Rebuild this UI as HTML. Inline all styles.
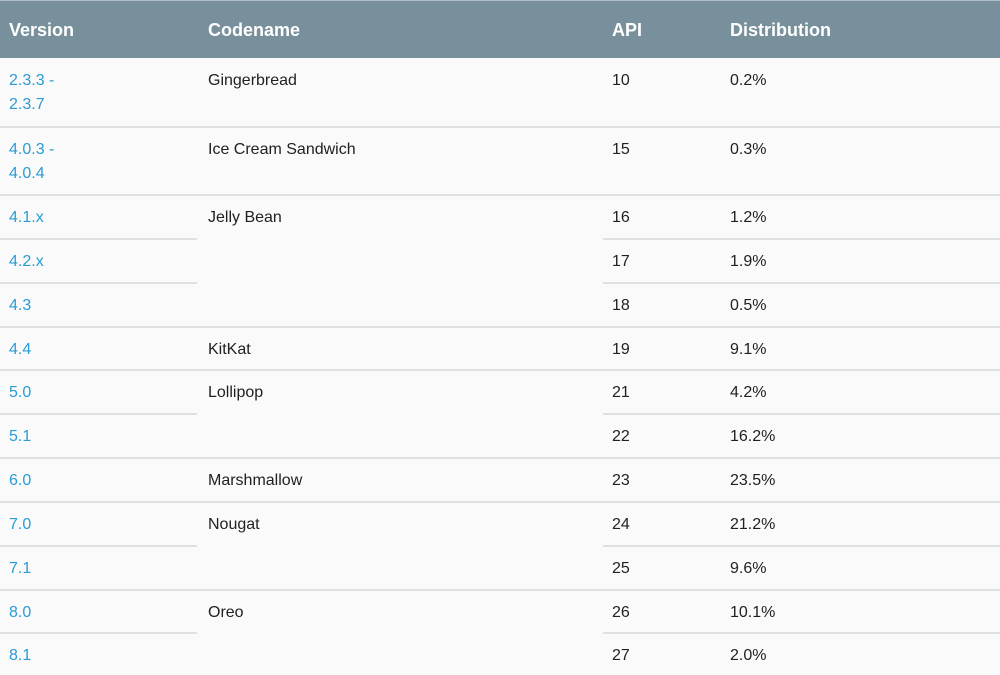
<!DOCTYPE html>
<html><head><meta charset="utf-8"><style>
body{margin:0;width:1000px;height:675px;overflow:hidden;background:#fafafa;font-family:"Liberation Sans",sans-serif;position:relative}
.hdr{position:absolute;left:0;top:0;width:1000px;height:58px;background:#78909c;border-top:1px solid #b0bec5;box-sizing:border-box}
.h{position:absolute;top:17px;color:#fff;font-weight:bold;font-size:18px;line-height:24px}
.t{position:absolute;font-size:16px;line-height:24px;color:#202124}
.v{color:#2a9bd6}
.ln{position:absolute;height:2px;background:#dde1e4}
</style></head><body>
<div class="hdr">
<div class="h" style="left:9px">Version</div>
<div class="h" style="left:208px">Codename</div>
<div class="h" style="left:612px">API</div>
<div class="h" style="left:730px">Distribution</div>
</div>
<div id="body"></div>
<script>
const versions=["2.3.3 -<br>2.3.7","4.0.3 -<br>4.0.4","4.1.x","4.2.x","4.3","4.4","5.0","5.1","6.0","7.0","7.1","8.0","8.1"];
const codenames=["Gingerbread","Ice Cream Sandwich","Jelly Bean","","","KitKat","Lollipop","","Marshmallow","Nougat","","Oreo",""];
const apis=["10","15","16","17","18","19","21","22","23","24","25","26","27"];
const dist=["0.2%","0.3%","1.2%","1.9%","0.5%","9.1%","4.2%","16.2%","23.5%","21.2%","9.6%","10.1%","2.0%"];
const tops=[58,127,195,239,283,327,370,414,458,502,546,590,633];
const b=document.getElementById('body');
function add(cls,left,top,html,name,inter){const d=document.createElement('div');d.className=cls;d.style.left=left+'px';d.style.top=top+'px';d.innerHTML=html;


b.appendChild(d);return d;}
for(let i=0;i<versions.length;i++){
 const y=tops[i]+11;
 add('t v',9,y,versions[i],'version-link','true');
 if(codenames[i])add('t',208,y,codenames[i],'codename-cell','false');
 add('t',612,y,apis[i],'api-cell','false');
 add('t',730,y,dist[i],'distribution-cell','false');
 if(i>0){
  const full=codenames[i]!=='';
  if(full){const l=add('ln',0,tops[i]-1,'','row-divider','false');l.style.width='1000px';}
  else{const a=add('ln',0,tops[i]-1,'','row-divider','false');a.style.width='197px';
   const c=add('ln',603,tops[i]-1,'','row-divider','false');c.style.width='397px';}
 }
}
</script>
</body></html>
